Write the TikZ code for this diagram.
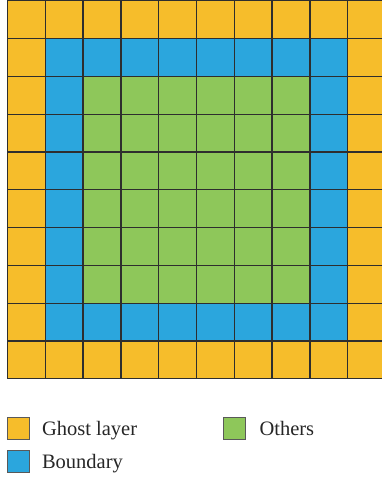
\documentclass[tikz,border=0pt]{standalone}
\usepackage{fontspec}
\setmainfont{Liberation Serif}
\usepackage{tikz}
\usetikzlibrary{positioning}
\definecolor{ghost}{HTML}{F6BD2B}
\definecolor{bound}{HTML}{2BA6DD}
\definecolor{other}{HTML}{8EC75A}
\definecolor{gridline}{HTML}{2E2E2E}
\tikzset{
  % grid cells
  cellbox/.style={rectangle, minimum size=37.8pt, inner sep=0pt, draw=gridline, line width=1.3pt, fill=#1},
  cellbox/.default={other},
  % legend
  keybox/.style={rectangle, minimum size=22pt, inner sep=0pt, draw=black!65, line width=0.8pt, fill=#1},
  legtext/.style={inner sep=0pt, text height=18pt, text depth=4pt, font=\fontsize{20.5}{24}\selectfont, text=black!85},
}
\begin{document}
\begin{tikzpicture}[x=1pt, y=-1pt]
    \useasboundingbox (0,0) rectangle (382,477);
    \clip (0,0) rectangle (382,477);

    % Cells: ring 0 = ghost, ring 1 = boundary, inside = others
    \foreach \i in {0,...,9} {
      \foreach \j in {0,...,9} {
        \pgfmathtruncatemacro{\ring}{min(\i,\j,9-\i,9-\j)}
        \ifcase\ring \def\cellcol{ghost}\or \def\cellcol{bound}\else \def\cellcol{other}\fi
        \node[cellbox=\cellcol] (c\i-\j) at ({7.5+37.8*(\i+0.5)}, {0.8+37.8*(\j+0.5)}) {};
      }
    }

    % Legend
    \node[keybox=ghost] (gkey) at (18,428) {};
    \node[legtext, right=12.4pt of gkey] (gtext) {Ghost layer};

    \node[keybox=other] (okey) at (234.6,428) {};
    \node[legtext, right=13.3pt of okey] (otext) {Others};

    \node[keybox=bound] (bkey) at (18,461.7) {};
    \node[legtext, right=12.4pt of bkey] (btext) {Boundary};
  \end{tikzpicture}
\end{document}
